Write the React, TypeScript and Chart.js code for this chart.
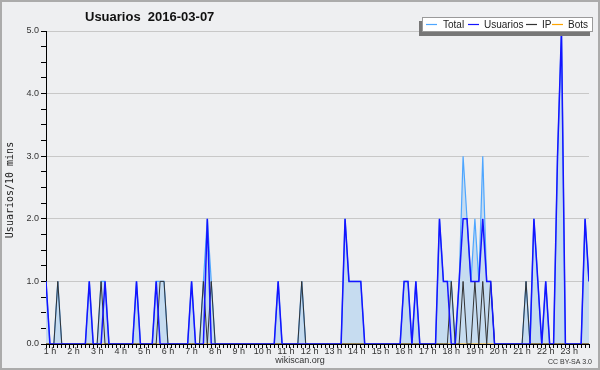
import React, { useEffect, useRef } from 'react';
import { Chart, registerables } from 'chart.js';

Chart.register(...registerables);

// ---- data (one value per 10 minutes) ----
const hourLabels = ['1 h','2 h','3 h','4 h','5 h','6 h','7 h','8 h','9 h','10 h','11 h','12 h','13 h','14 h','15 h','16 h','17 h','18 h','19 h','20 h','21 h','22 h','23 h'];

const usuarios = [
  1,0,0,0,0,0,
  0,0,0,0,0,1,
  0,0,0,1,0,0,
  0,0,0,0,0,1,
  0,0,0,0,1,0,
  0,0,0,0,0,0,
  0,1,0,0,0,2,
  0,0,0,0,0,0,
  0,0,0,0,0,0,
  0,0,0,0,0,1,
  0,0,0,0,0,0,
  0,0,0,0,0,0,
  0,0,0,0,2,1,
  1,1,1,0,0,0,
  0,0,0,0,0,0,
  0,1,1,0,1,0,
  0,0,0,0,2,1,
  1,0,0,1,2,2,
  1,1,1,2,1,1,
  0,0,0,0,0,0,
  0,0,0,0,2,1,
  0,1,0,0,3,5,
  0,0,0,0,0,2,
  1,
];

const ip = [
  0,0,0,1,0,0,
  0,0,0,0,0,0,
  0,0,1,0,0,0,
  0,0,0,0,0,0,
  0,0,0,0,0,1,
  1,0,0,0,0,0,
  0,0,0,0,1,0,
  1,0,0,0,0,0,
  0,0,0,0,0,0,
  0,0,0,0,0,0,
  0,0,0,0,0,1,
  0,0,0,0,0,0,
  0,0,0,0,0,0,
  0,0,0,0,0,0,
  0,0,0,0,0,0,
  0,0,0,0,0,0,
  0,0,0,0,0,0,
  0,1,0,0,1,0,
  0,1,0,1,0,1,
  0,0,0,0,0,0,
  0,0,1,0,0,0,
  0,0,0,0,0,0,
  0,0,0,0,0,0,
  0,
];

const total = [
  1,0,0,1,0,0,
  0,0,0,0,0,1,
  0,0,1,1,0,0,
  0,0,0,0,0,1,
  0,0,0,0,1,1,
  1,0,0,0,0,0,
  0,1,0,0,1,2,
  1,0,0,0,0,0,
  0,0,0,0,0,0,
  0,0,0,0,0,1,
  0,0,0,0,0,1,
  0,0,0,0,0,0,
  0,0,0,0,2,1,
  1,1,1,0,0,0,
  0,0,0,0,0,0,
  0,1,1,0,1,0,
  0,0,0,0,2,1,
  1,1,0,1,3,2,
  1,2,1,3,1,1,
  0,0,0,0,0,0,
  0,0,1,0,2,1,
  0,1,0,0,3,5,
  0,0,0,0,0,2,
  1,
];

const bots = [
  0,0,0,0,0,0, 0,0,0,0,0,0, 0,0,0,0,0,0, 0,0,0,0,0,0,
  0,0,0,0,0,0, 0,0,0,0,0,0, 0,0,0,0,0,0, 0,0,0,0,0,0,
  0,0,0,0,0,0, 0,0,0,0,0,0, 0,0,0,0,0,0, 0,0,0,0,0,0,
  0,0,0,0,0,0, 0,0,0,0,0,0, 0,0,0,0,0,0, 0,0,0,0,0,0,
  0,0,0,0,0,0, 0,0,0,0,0,0, 0,0,0,0,0,0, 0,0,0,0,0,0,
  0,0,0,0,0,0, 0,0,0,0,0,0, 0,0,0,0,0,0,
  0,
];

const titleText = 'Usuarios  2016-03-07';
const yTitle = 'Usuarios/10 mins';
const legendNames = ['Total', 'Usuarios', 'IP', 'Bots'];

const C_TOTAL = '#4ea6ff';
const C_USU = '#1414ff';
const C_IP = '#333333';
const C_BOTS = '#ffa500';
const C_FILL = '#c6dcf0';
const BG = '#eeeff1';

const toXY = (arr: number[]) => arr.map((v, i) => ({ x: i, y: v }));

const decor = {
  id: 'decor',
  beforeDraw(chart: any) {
    const c = chart.ctx;
    c.save();
    c.fillStyle = BG;
    c.fillRect(0, 0, chart.width, chart.height);
    c.restore();
  },
  afterDraw(chart: any) {
    const c = chart.ctx;
    c.save();
    // frame
    c.strokeStyle = '#ababab';
    c.lineWidth = 2;
    c.strokeRect(1, 1, chart.width - 2, chart.height - 2);

    // title
    c.fillStyle = '#111';
    c.font = 'bold 13px "Liberation Sans", Arial, sans-serif';
    c.textAlign = 'left';
    c.textBaseline = 'alphabetic';
    c.fillText(titleText, 85, 21);

    // y axis title
    c.save();
    c.translate(10, 190);
    c.rotate(-Math.PI / 2);
    c.font = '10px "DejaVu Sans Mono", monospace';
    c.textAlign = 'center';
    c.textBaseline = 'middle';
    c.fillStyle = '#222';
    c.fillText(yTitle, 0, 0);
    c.restore();

    // footers
    c.font = '9px "Liberation Sans", Arial, sans-serif';
    c.fillStyle = '#333';
    c.textAlign = 'center';
    c.textBaseline = 'middle';
    c.fillText('wikiscan.org', 300, 361);
    c.font = '7px "Liberation Sans", Arial, sans-serif';
    c.textAlign = 'right';
    c.fillText('CC BY-SA 3.0', 592, 362);

    // legend
    const bx = 422, by = 17, bw = 171, bh = 15;
    c.fillStyle = '#777';
    c.fillRect(bx - 3, by + 4, bw, bh);
    c.fillStyle = '#ffffff';
    c.fillRect(bx, by, bw, bh);
    c.strokeStyle = '#9a9a9a';
    c.lineWidth = 1;
    c.strokeRect(bx + 0.5, by + 0.5, bw - 1, bh - 1);
    const items = [
      { col: C_TOTAL, lx: 426, tx: 443 },
      { col: C_USU, lx: 468, tx: 484 },
      { col: C_IP, lx: 526, tx: 542 },
      { col: C_BOTS, lx: 552, tx: 568 },
    ];
    c.font = '10px "Liberation Sans", Arial, sans-serif';
    c.textAlign = 'left';
    c.textBaseline = 'middle';
    items.forEach((it, k) => {
      c.strokeStyle = it.col;
      c.lineWidth = 1.2;
      c.beginPath();
      c.moveTo(it.lx, 24.5);
      c.lineTo(it.lx + 11, 24.5);
      c.stroke();
      c.fillStyle = '#222';
      c.fillText(legendNames[k], it.tx, 25);
    });
    c.restore();
  },
};

export default function App() {
  const ref = useRef<HTMLCanvasElement | null>(null);
  useEffect(() => {
    document.body.style.margin = '0';
    const chart = new Chart(ref.current as HTMLCanvasElement, {
      type: 'line',
      data: {
        datasets: [
          { label: 'Usuarios', data: toXY(usuarios), borderColor: C_USU, borderWidth: 1.5, pointRadius: 0, fill: false, tension: 0, order: 1 },
          { label: 'IP', data: toXY(ip), borderColor: C_IP, borderWidth: 1, pointRadius: 0, fill: false, tension: 0, order: 2 },
          { label: 'Bots', data: toXY(bots), borderColor: C_BOTS, borderWidth: 1, pointRadius: 0, fill: false, tension: 0, order: 3 },
          { label: 'Total', data: toXY(total), borderColor: C_TOTAL, backgroundColor: C_FILL, borderWidth: 1.2, pointRadius: 0, fill: 'origin', tension: 0, order: 4 },
        ],
      },
      options: {
        responsive: false,
        animation: false,
        events: [],
        layout: { padding: { left: 0, top: 31, right: 11, bottom: 0 } },
        plugins: {
          legend: { display: false },
          title: { display: false },
          tooltip: { enabled: false },
          filler: { drawTime: 'beforeDatasetsDraw' },
        },
        scales: {
          x: {
            type: 'linear',
            min: 0,
            max: usuarios.length - 1,
            z: 1,
            afterFit: (s: any) => { s.height = 26; },
            ticks: {
              stepSize: 1,
              autoSkip: false,
              maxRotation: 0,
              minRotation: 0,
              padding: -2,
              color: '#333',
              font: { family: '"Liberation Sans", Arial, sans-serif', size: 9 },
              callback: (v: any) => {
                const n = Number(v) - 1;
                if (n >= 0 && n % 6 === 0 && n / 6 < hourLabels.length) return hourLabels[n / 6];
                return '';
              },
            },
            grid: { drawOnChartArea: false, drawTicks: true, tickLength: 4, tickColor: '#000', tickWidth: 1 },
            border: { display: true, color: '#000', width: 1 },
          },
          y: {
            min: 0,
            max: 5,
            afterFit: (s: any) => { s.width = 46; },
            ticks: {
              stepSize: 0.25,
              autoSkip: false,
              padding: 2,
              color: '#333',
              font: { family: '"Liberation Sans", Arial, sans-serif', size: 9 },
              callback: (v: any) => (Number.isInteger(Number(v)) ? Number(v).toFixed(1) : ''),
            },
            grid: {
              color: (ctx: any) => (ctx.tick && Number.isInteger(ctx.tick.value) ? '#c8c8c8' : 'rgba(0,0,0,0)'),
              tickColor: '#000',
              tickLength: 5,
              lineWidth: 1,
            },
            border: { display: true, color: '#000', width: 1 },
          },
        },
      },
      plugins: [decor],
    });
    return () => chart.destroy();
  }, []);
  return (
    <div style={{ position: 'absolute', left: 0, top: 0, width: 600, height: 370 }}>
      <canvas ref={ref} width={600} height={370} />
    </div>
  );
}
